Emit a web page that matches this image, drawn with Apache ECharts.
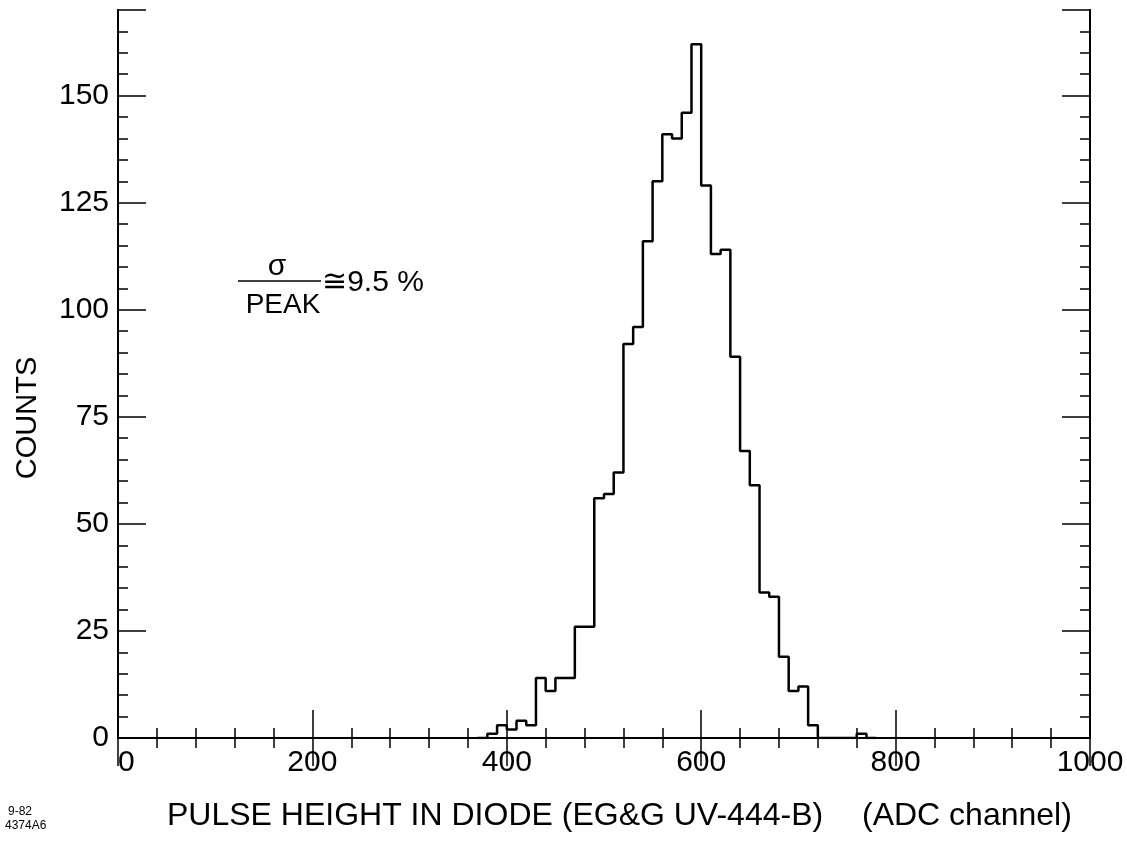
<!DOCTYPE html>
<html>
<head>
<meta charset="utf-8">
<script src="https://cdn.jsdelivr.net/npm/echarts@6/dist/echarts.min.js"></script>
<style>
html,body{margin:0;padding:0;background:#fff;}
#chart{width:1127px;height:845px;}
</style>
</head>
<body>
<div id="chart"></div>
<script>
// Histogram: bins of width 10 ADC channels, starting at 370
const binStart = 370;
const binWidth = 10;
const counts = [0, 1, 3, 2, 4, 3, 14, 11, 14, 14, 26, 26, 56, 57, 62, 92, 96, 116, 130, 141, 140, 146, 162,
  129, 113, 114, 89, 67, 59, 34, 33, 19, 11, 12, 3, 0, 0, 0, 0, 1, 0];
const xTicks = [0, 200, 400, 600, 800, 1000];
const yTicks = [0, 25, 50, 75, 100, 125, 150];

const FONT = '"Liberation Sans", "DejaVu Sans", sans-serif';
const data = counts.map((c, i) => [binStart + binWidth * i, c]);
data.push([binStart + binWidth * counts.length, 0]);

const chart = echarts.init(document.getElementById('chart'));
const axisLine = { show: true, lineStyle: { color: '#000', width: 2 } };
function xAx(pos, showLabel) {
  return {
    type: 'value', position: pos, min: 0, max: 1000, interval: 200,
    axisLine: axisLine,
    axisTick: { show: true, inside: true, length: 28, lineStyle: { color: '#000', width: 1.5 } },
    minorTick: { show: true, splitNumber: 5, length: 10, lineStyle: { color: '#000', width: 1.5 } },
    splitLine: { show: false }, minorSplitLine: { show: false },
    axisLabel: { show: showLabel, fontSize: 30, color: '#000', fontFamily: FONT, margin: 10,
      alignMinLabel: 'left',
      formatter: v => (xTicks.indexOf(v) >= 0 ? String(v) : '') }
  };
}
function yAxMajor(pos, showLabel) {
  return {
    type: 'value', position: pos, min: 0, max: 170, interval: 25,
    axisLine: axisLine,
    axisTick: { show: true, inside: true, length: 28, lineStyle: { color: '#000', width: 1.5 } },
    splitLine: { show: false },
    axisLabel: { show: showLabel, fontSize: 30, color: '#000', fontFamily: FONT, margin: 9,
      formatter: v => (yTicks.indexOf(v) >= 0 ? String(v) : '') }
  };
}
function yAxMinor(pos) {
  return {
    type: 'value', position: pos, min: 0, max: 170, interval: 5,
    axisLine: axisLine,
    axisTick: { show: true, inside: true, length: 10, lineStyle: { color: '#000', width: 1.5 } },
    splitLine: { show: false },
    axisLabel: { show: false }
  };
}

chart.setOption({
  animation: false,
  backgroundColor: '#fff',
  grid: { left: 118, right: 37, top: 10, bottom: 107, containLabel: false },
  xAxis: [xAx('bottom', true), xAx('top', false)],
  yAxis: [yAxMajor('left', true), yAxMinor('left'), yAxMajor('right', false), yAxMinor('right')],
  series: [{
    type: 'line', xAxisIndex: 0, yAxisIndex: 0, step: 'end', symbol: 'none',
    lineStyle: { color: '#000', width: 2.5 }, data: data
  }],
  graphic: [
    { type: 'text', x: 28, y: 418, rotation: Math.PI / 2,
      style: { text: 'COUNTS', fontSize: 29, fontFamily: FONT, fill: '#000', align: 'center', verticalAlign: 'middle' } },
    { type: 'text', x: 167, y: 816,
      style: { text: 'PULSE HEIGHT IN DIODE (EG&G UV-444-B)', fontSize: 32, fontFamily: FONT, fill: '#000', align: 'left', verticalAlign: 'middle' } },
    { type: 'text', x: 862, y: 816,
      style: { text: '(ADC channel)', fontSize: 32, fontFamily: FONT, fill: '#000', align: 'left', verticalAlign: 'middle' } },
    { type: 'text', x: 8, y: 812,
      style: { text: '9-82', fontSize: 12, fontFamily: FONT, fill: '#000', align: 'left', verticalAlign: 'middle' } },
    { type: 'text', x: 5, y: 826,
      style: { text: '4374A6', fontSize: 12, fontFamily: FONT, fill: '#000', align: 'left', verticalAlign: 'middle' } },
    { type: 'text', x: 277, y: 267,
      style: { text: 'σ', fontSize: 30, fontFamily: FONT, fill: '#000', align: 'center', verticalAlign: 'middle' } },
    { type: 'line', shape: { x1: 238, y1: 281, x2: 321, y2: 281 }, style: { stroke: '#000', lineWidth: 1.5 } },
    { type: 'text', x: 283, y: 305,
      style: { text: 'PEAK', fontSize: 28, fontFamily: FONT, fill: '#000', align: 'center', verticalAlign: 'middle' } },
    { type: 'text', x: 322, y: 283,
      style: { text: '≅9.5 %', fontSize: 30, fontFamily: FONT, fill: '#000', align: 'left', verticalAlign: 'middle' } }
  ]
});
</script>
</body>
</html>
